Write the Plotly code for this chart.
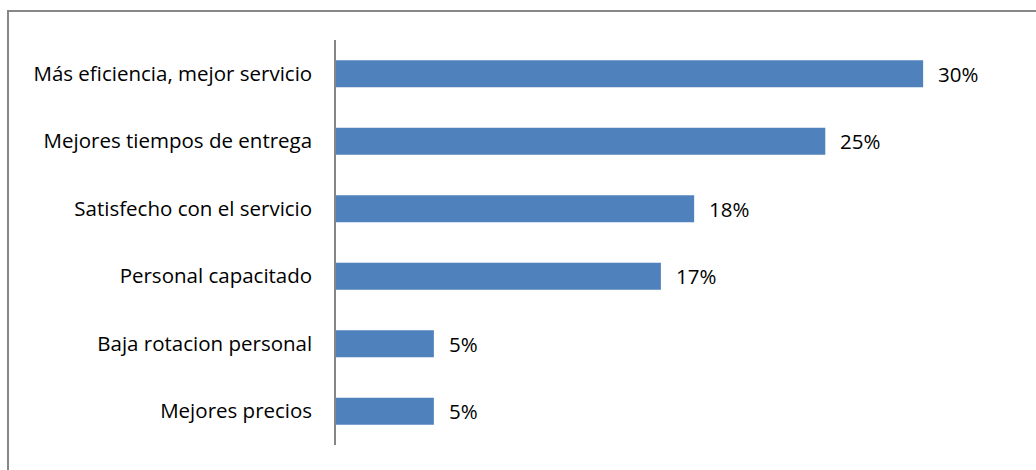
import plotly.graph_objects as go

categories = ["Más eficiencia, mejor servicio", "Mejores tiempos de entrega",
              "Satisfecho con el servicio", "Personal capacitado",
              "Baja rotacion personal", "Mejores precios"]
values = [30, 25, 18.3, 16.6, 5, 5]
labels = ["30%", "25%", "18%", "17%", "5%", "5%"]

W, H = 1036, 470
ml, mr, mt, mb = 336, 15, 40, 25
pw, ph = W - ml - mr, H - mt - mb
FONT = "Open Sans"
FS = 20.5

fig = go.Figure()
fig.add_trace(go.Bar(
    y=categories, x=values, orientation="h",
    marker=dict(color="#4F81BD", line=dict(width=0)),
    width=0.4, hoverinfo="skip",
))

for c, v, t in zip(categories, values, labels):
    fig.add_annotation(x=v, y=c, text=t, showarrow=False, xanchor="left",
                       xshift=13, font=dict(family=FONT, size=FS, color="#000000"))

# outer chart border
fig.add_shape(type="rect", xref="paper", yref="paper",
              x0=(8 - ml) / pw, x1=(W + 20 - ml) / pw,
              y0=(H - mb - (H + 20)) / ph, y1=(H - mb - 11) / ph,
              line=dict(color="#878787", width=2), fillcolor="rgba(0,0,0,0)", layer="below")

fig.update_layout(
    width=W, height=H,
    margin=dict(l=ml, r=mr, t=mt, b=mb),
    paper_bgcolor="white", plot_bgcolor="white",
    showlegend=False,
    font=dict(family=FONT, size=FS, color="#000000"),
    xaxis=dict(range=[0, 35], visible=False, showgrid=False, zeroline=False),
    yaxis=dict(autorange="reversed", showgrid=False, zeroline=False,
               showline=True, linecolor="#868686", linewidth=1.5,
               ticks="", ticklabelstandoff=18,
               tickfont=dict(family=FONT, size=FS, color="#000000")),
)

fig.write_html("out.html")
